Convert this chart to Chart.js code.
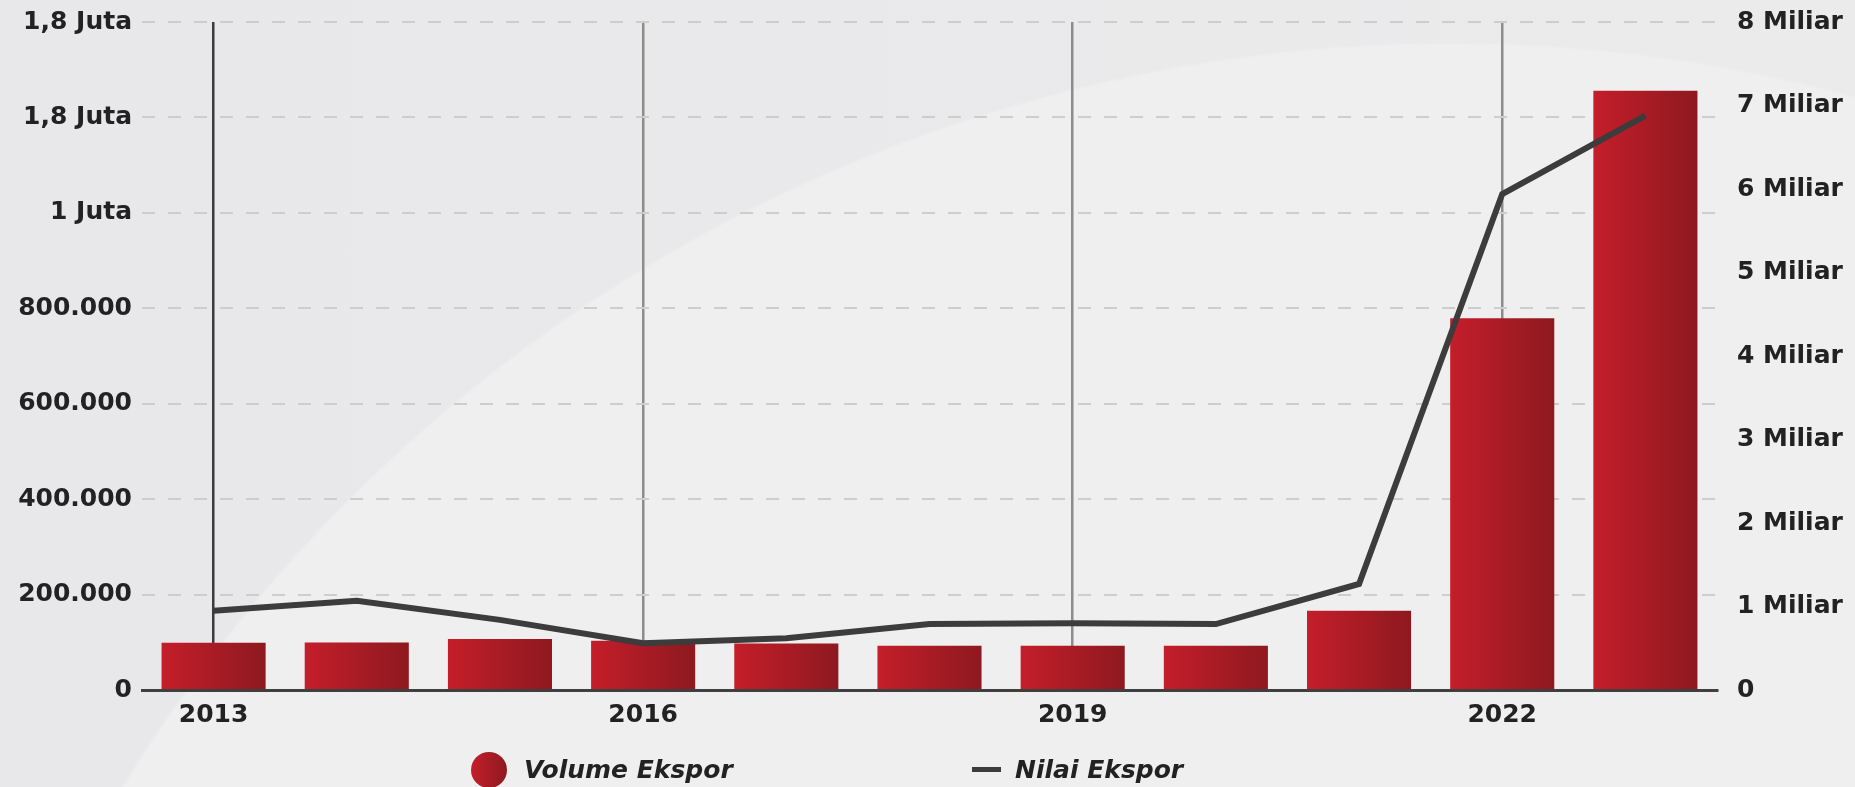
<!DOCTYPE html>
<html>
<head>
<meta charset="utf-8">
<title>Volume dan Nilai Ekspor</title>
<script src="https://cdn.jsdelivr.net/npm/chart.js@4.4.1/dist/chart.umd.min.js"></script>
<style>
    html, body { margin: 0; padding: 0; }
    body {
        width: 1855px;
        height: 787px;
        overflow: hidden;
        font-family: "DejaVu Sans", sans-serif;
        background:
            radial-gradient(circle at 1450px 1600px, #efeff0 0 1555px, rgba(239,239,240,0) 1558px),
            linear-gradient(90deg, #e8e8ea, #ebebec);
    }
    #wrap { position: relative; width: 1855px; height: 787px; }
    #legend {
        position: absolute;
        top: 751px;
        left: 0;
        width: 1855px;
        height: 38px;
        font-size: 25px;
        font-weight: bold;
        font-style: italic;
        color: #222;
    }
    .legend-item { position: absolute; top: 0; height: 38px; line-height: 38px; white-space: nowrap; }
    .legend-item .dot {
        position: absolute; left: 0; top: 1px; width: 36px; height: 36px; border-radius: 50%;
        background: linear-gradient(90deg, #c41e2a, #8e191f);
    }
    .legend-item .dash {
        position: absolute; left: 0; top: 16px; width: 29px; height: 5px; background: #3c3c3c;
    }
</style>
</head>
<body>
<div id="wrap">
    <canvas id="export-chart" width="1855" height="787"></canvas>
    <div id="legend">
        <div class="legend-item" style="left:471px; padding-left:53px;"><span class="dot"></span>Volume Ekspor</div>
        <div class="legend-item" style="left:972px; padding-left:43px;"><span class="dash"></span>Nilai Ekspor</div>
    </div>
</div>
<script>
// data (perkiraan)
const years = ['2013', '2014', '2015', '2016', '2017', '2018', '2019', '2020', '2021', '2022', '2023'];
const shownYears = ['2013', '2016', '2019', '2022'];
const volumeEkspor = [99000, 99500, 107000, 103000, 97500, 92500, 92500, 92500, 166000, 779000, 1256000];
const nilaiEkspor = [0.95e9, 1.07e9, 0.84e9, 0.56e9, 0.62e9, 0.79e9, 0.80e9, 0.79e9, 1.27e9, 5.94e9, 6.88e9];
const volumeTicks = ['0', '200.000', '400.000', '600.000', '800.000', '1 Juta', '1,8 Juta', '1,8 Juta'];
const nilaiTicks = ['0', '1 Miliar', '2 Miliar', '3 Miliar', '4 Miliar', '5 Miliar', '6 Miliar', '7 Miliar', '8 Miliar'];

const BAR_FRACTION = 0.727;
const tickFont = { family: '"DejaVu Sans", sans-serif', size: 25, weight: 'bold' };

function barGradient(context) {
    const chart = context.chart;
    const xScale = chart.scales.x;
    if (!xScale || context.dataIndex === undefined) return '#b01c25';
    const center = xScale.getPixelForValue(context.dataIndex);
    const half = xScale.width / years.length * BAR_FRACTION / 2;
    if (!isFinite(center) || !isFinite(half) || half <= 0) return '#b01c25';
    const g = chart.ctx.createLinearGradient(center - half, 0, center + half, 0);
    g.addColorStop(0, '#c41e2a');
    g.addColorStop(1, '#8e191f');
    return g;
}

const ctx = document.getElementById('export-chart').getContext('2d');
const chart = new Chart(ctx, {
    type: 'bar',
    data: {
        labels: years,
        datasets: [
            {
                type: 'line',
                label: 'Nilai Ekspor',
                data: nilaiEkspor,
                yAxisID: 'y1',
                borderColor: '#3c3c3c',
                borderWidth: 6,
                pointRadius: 0,
                tension: 0,
                order: 0
            },
            {
                label: 'Volume Ekspor',
                data: volumeEkspor,
                yAxisID: 'y',
                backgroundColor: barGradient,
                barPercentage: BAR_FRACTION,
                categoryPercentage: 1,
                order: 1
            }
        ]
    },
    options: {
        responsive: false,
        animation: false,
        layout: { padding: { left: 0, right: 0, top: 22, bottom: 47 } },
        plugins: {
            legend: { display: false },
            tooltip: { enabled: false }
        },
        scales: {
            x: {
                offset: true,
                grid: {
                    offset: false,
                    drawTicks: false,
                    lineWidth: 2.5,
                    color: (c) => {
                        if (c.index === 0) return '#3b3b3b';
                        return shownYears.includes(years[c.index]) ? '#8c8c8c' : 'rgba(0,0,0,0)';
                    }
                },
                border: { display: true, color: '#3f3f3f', width: 3 },
                ticks: {
                    autoSkip: false,
                    maxRotation: 0,
                    padding: 10,
                    color: '#222',
                    font: tickFont,
                    callback: (value, index) => shownYears.includes(years[index]) ? years[index] : ''
                }
            },
            y: {
                position: 'left',
                min: 0,
                max: 1400000,
                afterFit: (scale) => { scale.width = 142; scale.paddingTop = 0; },
                grid: {
                    drawTicks: false,
                    lineWidth: 2,
                    color: (c) => c.tick && c.tick.value === 0 ? 'rgba(0,0,0,0)' : '#cdcdcd'
                },
                border: { display: false, dash: [13, 13] },
                ticks: {
                    stepSize: 200000,
                    padding: 10,
                    color: '#222',
                    font: tickFont,
                    callback: (value, index) => volumeTicks[index]
                }
            },
            y1: {
                position: 'right',
                min: 0,
                max: 8e9,
                afterFit: (scale) => { scale.width = 138; scale.paddingTop = 0; },
                grid: { display: false, drawTicks: false },
                border: { display: false },
                ticks: {
                    stepSize: 1e9,
                    padding: 20,
                    color: '#222',
                    font: tickFont,
                    callback: (value, index) => nilaiTicks[index]
                }
            }
        }
    }
});
</script>
</body>
</html>
